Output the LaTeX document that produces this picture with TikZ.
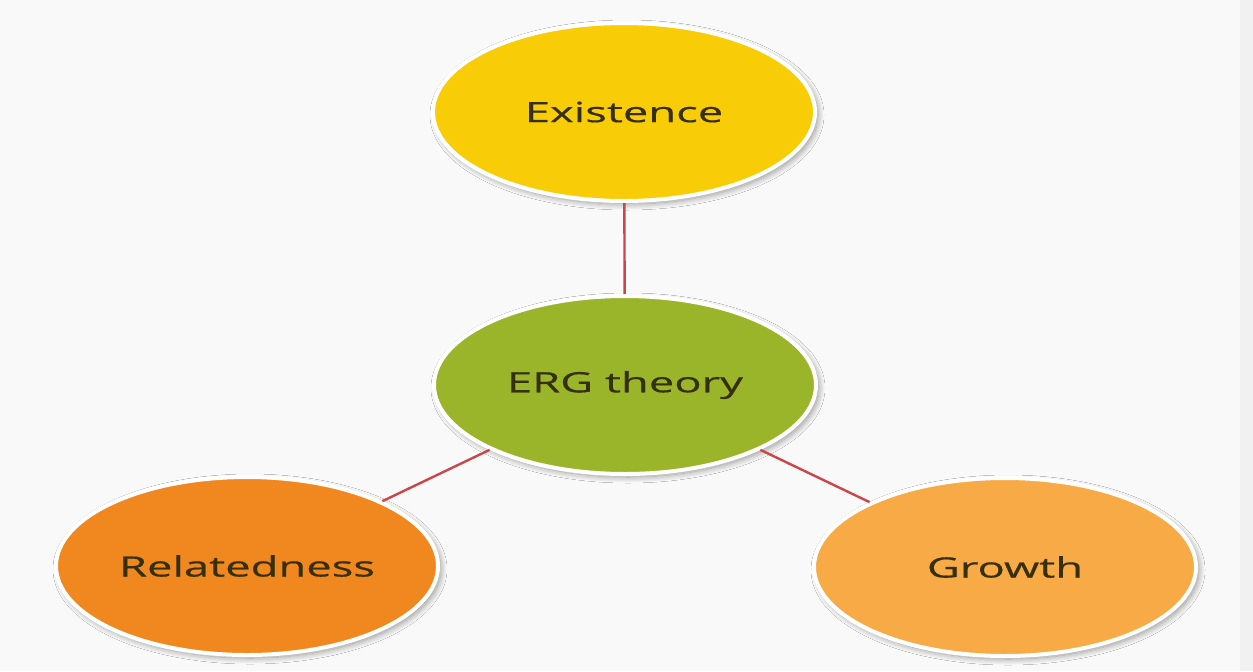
\documentclass[tikz,border=0pt]{standalone}
\usepackage{fontspec}
\newfontfamily\ergfont[FakeStretch=1.62,FakeBold=0.5]{Open Sans}
\usetikzlibrary{shapes.geometric,shadows.blur}
\definecolor{ergback}{HTML}{F9F9F9}
\definecolor{ergstrip}{HTML}{F1F1F1}
\definecolor{ergyellow}{HTML}{F8CD07}
\definecolor{erggreen}{HTML}{9BB52A}
\definecolor{ergorange}{HTML}{F0881F}
\definecolor{erglight}{HTML}{F7AA45}
\definecolor{ergtext}{HTML}{352F0E}
\definecolor{erglink}{HTML}{C9474A}
\tikzset{
  bubble/.style={ellipse, draw=white, line width=2pt, minimum width=191pt,
    minimum height=89pt, inner sep=0pt, text=ergtext,
    font=\ergfont\fontsize{14}{16}\selectfont,
    blur shadow={shadow xshift=1.5pt, shadow yshift=-1.5pt,
      shadow blur radius=3pt, shadow blur steps=12, shadow opacity=40}},
  link/.style={draw=erglink, line width=1.2pt}
}
\begin{document}
\begin{tikzpicture}[x=0.5pt,y=-0.5pt]
  % page
  \fill[ergback] (0,0) rectangle (1253,671);
  \fill[ergstrip] (1240,0) rectangle (1253,671);
  % the needs
  \node[bubble, fill=ergyellow] (existence) at (624,112) {Existence};
  \node[bubble, fill=erggreen] (erg) at (625,385) {ERG theory};
  \node[bubble, fill=ergorange] (relatedness) at (247,566) {Relatedness};
  \node[bubble, fill=erglight] (growth) at (1005,567) {Growth};
  % links
  \draw[link] (erg) -- (existence);
  \draw[link] (erg) -- (relatedness);
  \draw[link] (erg) -- (growth);
\end{tikzpicture}
\end{document}
